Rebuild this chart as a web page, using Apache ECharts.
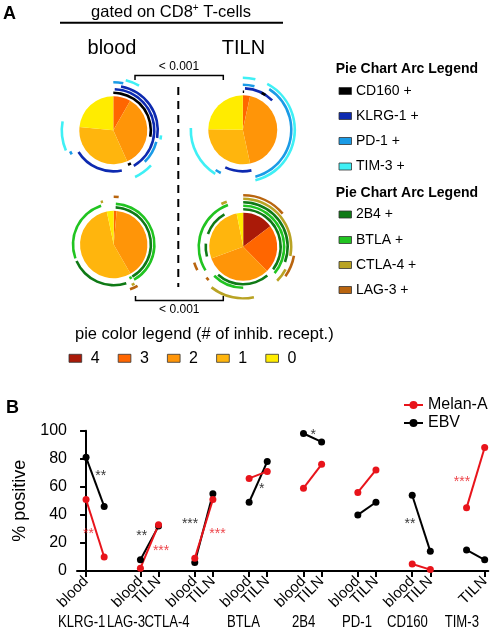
<!DOCTYPE html>
<html><head><meta charset="utf-8">
<script src="https://cdn.jsdelivr.net/npm/echarts@6/dist/echarts.min.js"></script>
<style>html,body{margin:0;padding:0;background:#fff}#c{width:498px;height:643px}</style>
</head><body><div id="c"></div>
<script>
// ================= DATA =================
// Panel B
const markers = ['KLRG-1','LAG-3','CTLA-4','BTLA','2B4','PD-1','CD160','TIM-3'];
const tissues = ['blood','TILN'];
const melanBlood = [51, 2, 9, 66, 59, 56, 5, 45];
const melanTILN  = [10, 33, 51, 71, 76, 72, 1, 88];
const ebvBlood   = [81, 8, 6, 49, 98, 40, 54, 15];
const ebvTILN    = [46, 32, 55, 78, 92, 49, 14, 8];
const yTicks = [0, 20, 40, 60, 80, 100];
// significance annotations: [series, label, x (axis units), y (% positive)]
const sigLabels = [
  ['EBV','**',0.81,69.8], ['Melan-A','**',0.13,28.6],
  ['EBV','**',3.07,26.9], ['Melan-A','***',4.14,16.4],
  ['EBV','***',5.74,35.7], ['Melan-A','***',7.25,28.6],
  ['EBV','*',9.7,60.7], ['EBV','*',12.54,98.8],
  ['EBV','**',17.88,35.2], ['Melan-A','***',20.75,65.7]
];
// Panel A: pie slices (% of cells with 4,3,2,1,0 inhibitory receptors)
const pieCategories = ['4','3','2','1','0'];
const pieBloodTop    = [0, 8.3, 35.0, 33.3, 23.4];
const pieTILNTop     = [0, 3.4, 43.2, 28.6, 24.8];
const pieBloodBottom = [0, 1.4, 40.3, 55.0, 3.3];
const pieTILNBottom  = [14.7, 22.9, 31.8, 27.5, 3.1];
// Panel A arcs: [receptor, ring, startDeg, endDeg]
const arcsBloodTop = [
  ['KLRG-1',2,2,150],['KLRG-1',2,168,238],['KLRG-1',3,10,100],
  ['CD160',1,0,100],['CD160',1,152,157],
  ['PD-1',4,0,12],['PD-1',3,105,135],['PD-1',4,240,244],
  ['TIM-3',5,14,30],['TIM-3',5,247,280],['TIM-3',5,133,155],['TIM-3',4,96,101]
];
const arcsTILNTop = [
  ['KLRG-1',2,3,45],['KLRG-1',2,168,205],
  ['CD160',1,0,2],['CD160',2,27,33],
  ['PD-1',3,0,15],['PD-1',4,33,165],['PD-1',4,207,214],
  ['TIM-3',5,0,14],['TIM-3',5,28,166],['TIM-3',5,212,272]
];
const arcsBloodBottom = [
  ['2B4',1,3,150],['2B4',2,162,246],
  ['BTLA',2,3,150],['BTLA',2,250,342],['BTLA',1,151,155],
  ['CTLA-4',3,343,346],['CTLA-4',3,152,156],
  ['LAG-3',4,0,6],['LAG-3',4,150,160]
];
const arcsTILNBottom = [
  ['2B4',1,0,127],['2B4',1,140,222],['2B4',1,255,275],['2B4',1,290,330],
  ['BTLA',2,0,130],['BTLA',3,238,340],['BTLA',2,180,225],
  ['2B4',3,0,110],
  ['CTLA-4',4,0,101],['CTLA-4',4,118,135],['CTLA-4',5,168,218],['CTLA-4',4,333,340],
  ['LAG-3',5,0,50],['LAG-3',5,100,125],['LAG-3',5,243,252],['LAG-3',4,226,230]
];
const arcLegendA = ['CD160','KLRG-1','PD-1','TIM-3'];
const arcLegendB = ['2B4','BTLA','CTLA-4','LAG-3'];

// ================= STYLE / LAYOUT =================
const FONT = 'Arial, "Liberation Sans", sans-serif';
const RED = '#e8141b', BLACK = '#000';
const arcColors = {'CD160':'#000000','KLRG-1':'#0d2ab0','PD-1':'#1a9be6','TIM-3':'#3ff0f5',
  '2B4':'#0f7a16','BTLA':'#21c421','CTLA-4':'#b9a324','LAG-3':'#b9650f'};
const pieColors = {'4':'#aa1a08','3':'#ff6600','2':'#ff9508','1':'#ffb50d','0':'#ffec00'};
const pies = [
  {vals: pieBloodTop, arcs: arcsBloodTop, center: [113.3,130.3], R: 34},
  {vals: pieTILNTop, arcs: arcsTILNTop, center: [242.8,129.8], R: 34.5},
  {vals: pieBloodBottom, arcs: arcsBloodBottom, center: [113.7,244.5], R: 33.7},
  {vals: pieTILNBottom, arcs: arcsTILNBottom, center: [243.2,246.8], R: 34}
];
const TR = 'rgba(0,0,0,0)';
const series = [];
pies.forEach(p => {
  series.push({type:'pie', center:p.center, radius:[0,p.R], startAngle:90, clockwise:true,
    silent:true, animation:false, label:{show:false}, labelLine:{show:false},
    emphasis:{disabled:true}, itemStyle:{borderWidth:0},
    data: pieCategories.map((c,i)=>({name:'slice'+c, value:p.vals[i], itemStyle:{color:pieColors[c]}}))});
  p.arcs.forEach(([rec, ring, s, e]) => {
    const r = p.R + 3.5*ring;
    series.push({type:'pie', center:p.center, radius:[r-1.3, r+1.3], startAngle:90, clockwise:true,
      silent:true, animation:false, label:{show:false}, labelLine:{show:false},
      emphasis:{disabled:true}, itemStyle:{borderWidth:0},
      data:[{value:s, itemStyle:{color:TR}}, {value:e-s, itemStyle:{color:arcColors[rec]}},
            {value:360-e, itemStyle:{color:TR}}]});
  });
});

// Panel B lines
function pairSeries(name, color, blood, tiln) {
  markers.forEach((m, i) => {
    series.push({type:'line', name, xAxisIndex:0, yAxisIndex:0, color,
      symbol:'circle', symbolSize:7, lineStyle:{width:2, color}, itemStyle:{color},
      animation:false, silent:true,
      data:[[3*i, blood[i]], [3*i+1, tiln[i]]]});
  });
}
pairSeries('EBV', BLACK, ebvBlood, ebvTILN);
pairSeries('Melan-A', RED, melanBlood, melanTILN);
['EBV','Melan-A'].forEach(sname => {
  series.push({type:'scatter', xAxisIndex:0, yAxisIndex:0, symbolSize:0, silent:true, animation:false,
    label:{show:true, position:'inside', formatter: d => d.name, color: sname==='EBV'?BLACK:RED,
      fontSize:14, fontFamily:FONT, offset:[0,3]},
    data: sigLabels.filter(s=>s[0]===sname).map(s=>({name:s[1], value:[s[2], s[3]]}))});
});

const tickPos = [];
markers.forEach((m,i)=>{ tickPos.push(3*i, 3*i+1); });

// graphics
const G = [];
function txt(x, y, text, font, align, extra) {
  G.push(Object.assign({type:'text', x, y, silent:true,
    style:{text, font, fill:'#000', align:align||'center', verticalAlign:'middle',
      textAlign:align||'center', textVerticalAlign:'middle', x:0, y:0}}, extra||{}));
}
function line(x1,y1,x2,y2,w,dash){
  G.push({type:'line', silent:true, shape:{x1,y1,x2,y2}, style:{stroke:'#000', lineWidth:w, lineDash:dash||null}});
}
txt(3, 14, 'A', 'bold 18px '+FONT, 'left');
txt(6, 408, 'B', 'bold 18px '+FONT, 'left');
G.push({type:'text', x:171, y:12, silent:true, style:{text:'gated on CD8{s|+} T-cells', font:'16.5px '+FONT,
  fill:'#000', align:'center', verticalAlign:'middle', textAlign:'center', textVerticalAlign:'middle',
  rich:{s:{fontSize:10, fontFamily:FONT, verticalAlign:'top', fill:'#000'}}}});
line(60, 22.7, 283, 22.7, 2);
txt(112, 48, tissues[0], '20px '+FONT);
txt(243.5, 48, tissues[1], '20px '+FONT);
// brackets
txt(179, 66.7, '< 0.001', '12px '+FONT);
G.push({type:'polyline', silent:true, shape:{points:[[135,80],[135,75.5],[223.3,75.5],[223.3,80]]}, style:{stroke:'#000', lineWidth:1.5, fill:null}});
G.push({type:'polyline', silent:true, shape:{points:[[135.5,296],[135.5,300.5],[223.3,300.5],[223.3,296]]}, style:{stroke:'#000', lineWidth:1.5, fill:null}});
txt(179.3, 310, '< 0.001', '12px '+FONT);
line(178.3, 87, 178.3, 287, 2, [8,6]);
// arc legend
txt(335.7, 69.3, 'Pie Chart Arc Legend', 'bold 14px '+FONT, 'left');
txt(335.7, 193.3, 'Pie Chart Arc Legend', 'bold 14px '+FONT, 'left');
const legYA = [91, 116, 141, 166.5], legYB = [214.5, 240, 265, 290];
function arcLegItem(name, y){
  G.push({type:'rect', silent:true, shape:{x:339, y:y-3.5, width:12.5, height:7}, style:{fill:arcColors[name], stroke:'#333', lineWidth:0.8}});
  txt(356, y, name + ' +', '14px '+FONT, 'left');
}
arcLegendA.forEach((n,i)=>arcLegItem(n, legYA[i]));
arcLegendB.forEach((n,i)=>arcLegItem(n, legYB[i]));
// pie color legend
txt(75, 334, 'pie color legend (# of inhib. recept.)', '16.5px '+FONT, 'left');
pieCategories.forEach((c,i)=>{
  const bx = 69 + 49.2*i;
  G.push({type:'rect', silent:true, shape:{x:bx, y:354.3, width:12.7, height:8}, style:{fill:pieColors[c], stroke:'#333', lineWidth:0.8}});
  txt(bx+21.7, 358.3, c, '16px '+FONT, 'left');
});
// panel B group labels
const groupLabelX = [81.7, 126, 167, 243.5, 303.7, 357, 407.5, 461.8];
markers.forEach((m,i)=>{
  G.push({type:'text', x:groupLabelX[i], y:623, scaleX:0.82, silent:true,
    style:{text:m, font:'16px '+FONT, fill:'#000', align:'center', verticalAlign:'middle',
      textAlign:'center', textVerticalAlign:'middle', x:0, y:0}});
});

const chart = echarts.init(document.getElementById('c'), null, {renderer:'canvas'});
chart.setOption({
  animation:false,
  backgroundColor:'#fff',
  textStyle:{fontFamily:FONT},
  grid:{left:77, top:430.7, width:411.3, height:140.3, containLabel:false},
  xAxis:{type:'value', min:-0.5, max:22.2,
    axisLine:{show:true, onZero:false, lineStyle:{color:'#000', width:2}},
    axisTick:{show:true, customValues:tickPos, length:6, lineStyle:{color:'#000', width:2}},
    axisLabel:{show:true, customValues:tickPos, rotate:45, fontSize:15, color:'#000', margin:8,
      showMinLabel:true, showMaxLabel:true, hideOverlap:false,
      formatter: v => tissues[Math.round(v)%3]},
    splitLine:{show:false}},
  yAxis:{type:'value', min:yTicks[0], max:yTicks[yTicks.length-1], interval:20,
    name:'% positive', nameLocation:'middle', nameGap:39,
    nameTextStyle:{fontSize:18, color:'#000', fontFamily:FONT},
    axisLine:{show:true, lineStyle:{color:'#000', width:2}},
    axisTick:{show:true, length:6, lineStyle:{color:'#000', width:2}},
    axisLabel:{fontSize:16, color:'#000', margin:10},
    splitLine:{show:false}},
  legend:{data:['Melan-A','EBV'], orient:'vertical', left:403, top:397, padding:0, itemWidth:19, itemHeight:10,
    itemGap:2, textStyle:{fontSize:16, color:'#000', lineHeight:16, fontFamily:FONT}, selectedMode:false},
  graphic:{elements:G},
  series
});
</script></body></html>
